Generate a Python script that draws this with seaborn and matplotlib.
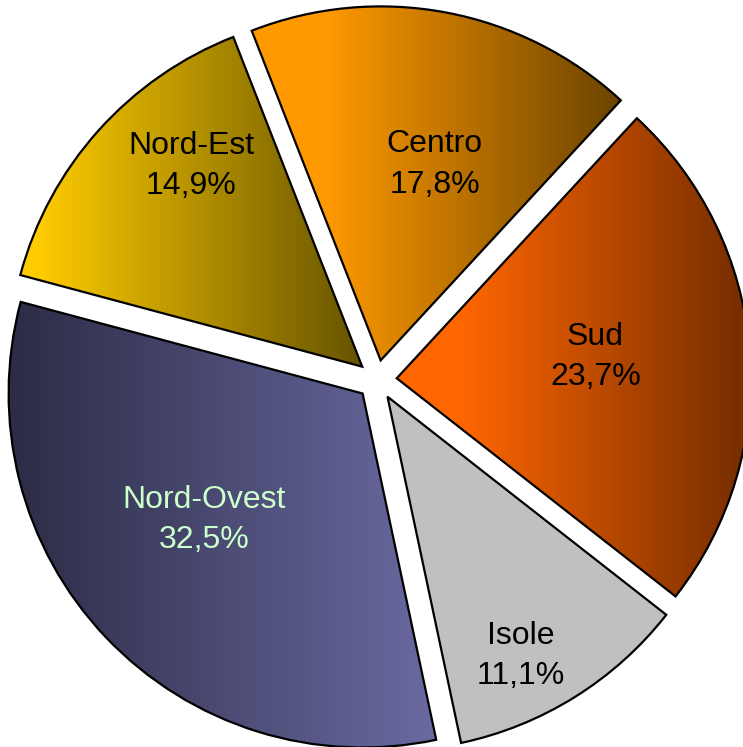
import numpy as np
import matplotlib
matplotlib.use("Agg")
import matplotlib.pyplot as plt
import seaborn as sns
from matplotlib.colors import LinearSegmentedColormap

# Data
regions = ["Nord-Ovest", "Nord-Est", "Centro", "Sud", "Isole"]
shares = [32.5, 14.9, 17.8, 23.7, 11.1]

# gradient colours per slice, left -> right
grad_left = ["#2c2c46", "#ffcc00", "#ff9900", "#ff6600", "#c0c0c0"]
grad_right = ["#6a6aa2", "#665300", "#6b4300", "#732c00", "#c0c0c0"]
grad_flat = [0.0, 0.05, 0.2, 0.18, 0.0]
text_colors = ["#ccffcc", "black", "black", "black", "black"]

# label placement (radius, angle in degrees) from pie centre
label_pos = [(0.63, 219), (0.80, 131), (0.63, 75), (0.62, 6), (0.88, -62.5)]

sns.set_theme(style="white")
plt.rcParams["font.family"] = ["Liberation Sans", "DejaVu Sans"]

fig = plt.figure(figsize=(7.43, 7.47), dpi=100)
ax = fig.add_axes([0, 0, 1, 1])

wedges, _ = ax.pie(
    shares,
    startangle=-78.0,
    counterclock=False,
    explode=[0.056] * len(shares),
    wedgeprops=dict(edgecolor="black", linewidth=1.6, facecolor="none"),
)

grad = np.linspace(0, 1, 256).reshape(1, -1)
for w, c0, c1, fl in zip(wedges, grad_left, grad_right, grad_flat):
    w.set_zorder(3)
    bb = w.get_path().get_extents()
    cmap = LinearSegmentedColormap.from_list("g", [(0, c0), (max(fl, 1e-3), c0), (1, c1)])
    im = ax.imshow(grad, cmap=cmap, extent=(bb.x0, bb.x1, bb.y0, bb.y1),
                   aspect="auto", interpolation="bilinear", zorder=2)
    im.set_clip_path(w)

for name, v, col, (r, a) in zip(regions, shares, text_colors, label_pos):
    t = np.deg2rad(a)
    txt = name + "\n" + f"{v:.1f}".replace(".", ",") + "%"
    ax.text(r * np.cos(t), r * np.sin(t), txt, ha="center", va="center",
            fontsize=23, color=col, linespacing=1.45, zorder=4)

ax.set_xlim(-1.065, 1.034)
ax.set_ylim(-1.037, 1.073)
ax.set_aspect("equal")
ax.axis("off")

fig.savefig("out.png", dpi=100, facecolor="white")
